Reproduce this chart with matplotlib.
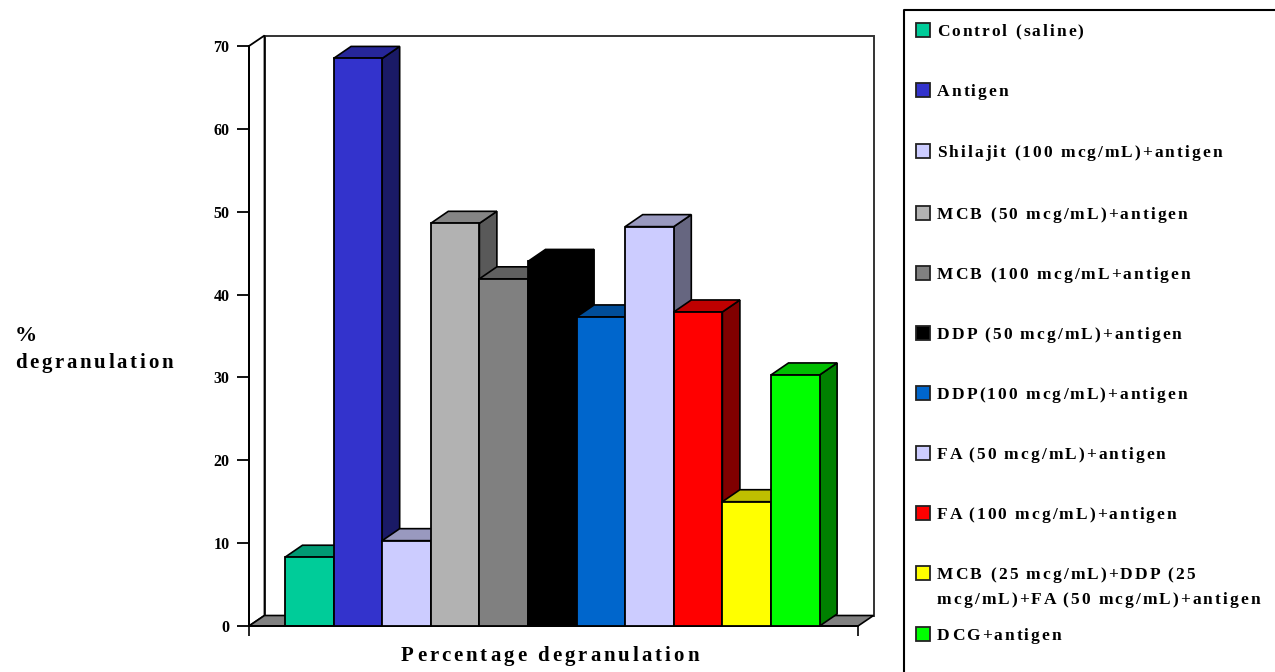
import matplotlib
matplotlib.use("Agg")
import matplotlib.pyplot as plt
from matplotlib.patches import Polygon, Rectangle
from matplotlib.text import Text
from matplotlib.transforms import Bbox, IdentityTransform
from matplotlib.colors import to_rgb

plt.rcParams['font.family'] = ['Liberation Serif', 'DejaVu Serif']
plt.rcParams['font.weight'] = 'bold'

W, H = 1275, 672

labels = ["Control (saline)", "Antigen", "Shilajit (100 mcg/mL)+antigen",
          "MCB (50 mcg/mL)+antigen", "MCB (100 mcg/mL+antigen",
          "DDP (50 mcg/mL)+antigen", "DDP(100 mcg/mL)+antigen",
          "FA (50 mcg/mL)+antigen", "FA (100 mcg/mL)+antigen",
          "MCB (25 mcg/mL)+DDP (25\nmcg/mL)+FA (50 mcg/mL)+antigen",
          "DCG+antigen"]
values = [8.3, 68.5, 10.3, 48.6, 41.9, 44.0, 37.3, 48.2, 37.9, 15.0, 30.3]
colors = ["#00CC99", "#3333CC", "#CCCCFF", "#B2B2B2", "#808080", "#000000",
          "#0066CC", "#CCCCFF", "#FF0000", "#FFFF00", "#00FF00"]
yticks = [0, 10, 20, 30, 40, 50, 60, 70]
legend_y = [30, 90, 151, 213, 273, 333, 393, 453, 513, 573, 634]


class SpacedText(Text):
    # single text object drawn with extra pixels between the letters
    def __init__(self, *args, tracking=0, **kwargs):
        super().__init__(*args, **kwargs)
        self.tracking = tracking

    def _advance(self, renderer, s):
        if not s:
            return 0
        w = renderer.get_text_width_height_descent(s, self.get_fontproperties(), False)[0]
        return w + len(s) * self.tracking

    def draw(self, renderer):
        s = self.get_text()
        x, y = self.get_transform().transform(self.get_position())
        gc = renderer.new_gc()
        gc.set_foreground(self.get_color())
        for i, ch in enumerate(s):
            renderer.draw_text(gc, x + self._advance(renderer, s[:i]), H - y, ch,
                               self.get_fontproperties(), 0)
        gc.restore()

    def get_window_extent(self, renderer=None, dpi=None):
        renderer = renderer or self.get_figure().canvas.get_renderer()
        s = self.get_text()
        x, y = self.get_transform().transform(self.get_position())
        _, h, d = renderer.get_text_width_height_descent(s, self.get_fontproperties(), False)
        return Bbox.from_extents(x, y - d, x + self._advance(renderer, s), y + h - d)


def shade(color, k):
    return tuple(c * k for c in to_rgb(color))


fig = plt.figure(figsize=(W / 100, H / 100), dpi=100)

# full-figure layer in pixel units for the legend frame and the outer labels
page = fig.add_axes([0, 0, 1, 1], zorder=0)
page.set_xlim(0, W)
page.set_ylim(H, 0)
page.axis("off")


def page_label(px, py, s, size, tracking):
    t = SpacedText(px, H - py, s, tracking=tracking, fontsize=size, fontweight="bold", color="black")
    t.set_transform(IdentityTransform())
    page.add_artist(t)


# front plane of the chart
x0, x1, y0, y1 = 249, 858, 626, 46
ax = fig.add_axes([x0 / W, 1 - y0 / H, (x1 - x0) / W, (y0 - y1) / H], zorder=1)
ax.patch.set_visible(False)
ax.set_xlim(-0.74, 11.79)
ax.set_ylim(0, 70)
for s in ["top", "right"]:
    ax.spines[s].set_visible(False)
for s in ["left", "bottom"]:
    ax.spines[s].set_linewidth(1.4)
ax.set_yticks(yticks)
ax.set_yticklabels(yticks, fontsize=11.5, fontweight="bold")
ax.set_xticks([-0.74, 11.79])
ax.set_xticklabels([])
ax.tick_params(axis="y", length=9, width=1.3, pad=5)
ax.tick_params(axis="x", length=7, width=1.2)

# depth offsets converted to data units
xu = (x1 - x0) / 12.53
yu = (y0 - y1) / 70
wall_dx, wall_dy = 15.5 / xu, 10.5 / yu
bar_dx, bar_dy = 17.5 / xu, 12 / yu
xl, xr = ax.get_xlim()

ax.add_patch(Polygon([(xl + wall_dx, wall_dy), (xr + wall_dx, wall_dy),
                      (xr + wall_dx, 70 + wall_dy), (xl + wall_dx, 70 + wall_dy)],
                     fc="white", ec="#333333", lw=1.4, clip_on=False, zorder=1))
ax.add_patch(Polygon([(xl, 0), (xl + wall_dx, wall_dy), (xl + wall_dx, 70 + wall_dy), (xl, 70)],
                     fc="white", ec="black", lw=1.3, clip_on=False, zorder=1))
ax.add_patch(Polygon([(xl, 0), (xr, 0), (xr + wall_dx, wall_dy), (xl + wall_dx, wall_dy)],
                     fc="#808080", ec="black", lw=1.2, clip_on=False, zorder=1))

# bars left to right so each front face covers the neighbour's side
for i, (v, c) in enumerate(zip(values, colors)):
    z = 2 + i
    ax.add_patch(Polygon([(i + 1, 0), (i + 1 + bar_dx, bar_dy), (i + 1 + bar_dx, v + bar_dy), (i + 1, v)],
                         fc=shade(c, 0.5), ec="black", lw=1.2, clip_on=False, zorder=z))
    ax.add_patch(Polygon([(i, v), (i + 1, v), (i + 1 + bar_dx, v + bar_dy), (i + bar_dx, v + bar_dy)],
                         fc=shade(c, 0.75), ec="black", lw=1.2, clip_on=False, zorder=z))
    ax.bar(i + 0.5, v, width=1, color=c, edgecolor="black", linewidth=1.3, zorder=z, clip_on=False)

# legend frame runs off the right and bottom edges
page.plot([W + 5, 904, 904], [10, 10, H + 5], color="black", lw=1.5, clip_on=False)
for (ly, c, lab) in zip(legend_y, colors, labels):
    page.add_patch(Rectangle((916, ly - 7), 14, 14, fc=c, ec="#222222", lw=1.3))
    for k, line in enumerate(lab.split("\n")):
        page_label(937, ly + 6 + k * 25, line, 12.5, 2.05)

page_label(15, 341, "%", 16, 1.5)
page_label(15, 368, "degranulation", 15, 2.7)
page_label(401, 661, "Percentage degranulation", 15, 3.0)

fig.savefig("out.png", dpi=100)
